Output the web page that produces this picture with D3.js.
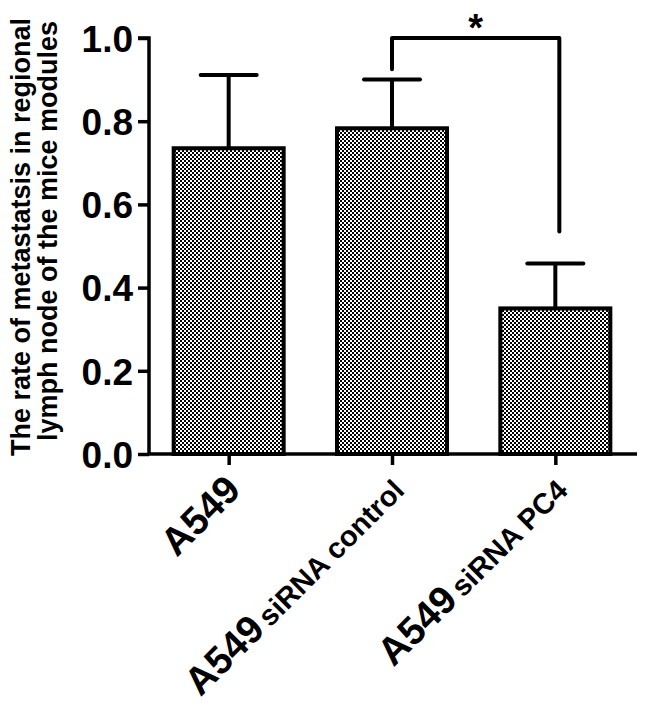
<!DOCTYPE html>
<html lang="en">
<head>
  <meta charset="UTF-8" />
  <script src="https://d3js.org/d3.v7.min.js"></script>
  <title>Metastasis rate</title>
  <style>
    body { margin: 0; background: #fff; }
    text { font-family: "Liberation Sans", Arial, sans-serif; font-weight: bold; fill: #000; }
  </style>
</head>
<body>
<script type="text/javascript">
// values
var groups = ["A549", "A549 siRNA control", "A549 siRNA PC4"];
var labelMain = ["A549", "A549", "A549"];
var labelSub = ["", "siRNA control", "siRNA PC4"];
var means = [0.735, 0.783, 0.35];
var errs = [0.176, 0.117, 0.108];
var yTicks = [0, 0.2, 0.4, 0.6, 0.8, 1.0];
// significance bracket: between group 2 and 3
var sig = {from: 1, to: 2, level: 1.0, leftEnd: 0.925, rightEnd: 0.535, mark: "*"};

var width = 650, height = 714;
var x0 = 147, x1 = 637, yTop = 38, yBase = 454;

var svg = d3.select("body").append("svg").attr("width", width).attr("height", height);

// checkerboard fill
var defs = svg.append("defs");
var pat = defs.append("pattern").attr("id", "checker")
  .attr("patternUnits", "userSpaceOnUse").attr("width", 4).attr("height", 4);
pat.append("rect").attr("width", 4).attr("height", 4).attr("fill", "#fff");
pat.append("rect").attr("width", 2).attr("height", 2).attr("fill", "#000");
pat.append("rect").attr("x", 2).attr("y", 2).attr("width", 2).attr("height", 2).attr("fill", "#000");

var x = d3.scalePoint().domain(groups).range([x0, x1]).padding(0.5);
var y = d3.scaleLinear().domain([0, 1]).range([yBase, yTop]);
var barW = 110;

// bars
svg.selectAll(".bar").data(groups).enter().append("rect")
  .attr("x", function(d){ return x(d) - barW/2; })
  .attr("y", function(d,i){ return y(means[i]); })
  .attr("width", barW)
  .attr("height", function(d,i){ return yBase - y(means[i]); })
  .attr("fill", "url(#checker)")
  .attr("stroke", "#000").attr("stroke-width", 4);

// error bars (upper only)
var eb = svg.selectAll(".err").data(groups).enter().append("g");
eb.append("line")
  .attr("x1", function(d){ return x(d); }).attr("x2", function(d){ return x(d); })
  .attr("y1", function(d,i){ return y(means[i]); })
  .attr("y2", function(d,i){ return y(means[i] + errs[i]); })
  .attr("stroke", "#000").attr("stroke-width", 4);
eb.append("line")
  .attr("x1", function(d){ return x(d) - 28; }).attr("x2", function(d){ return x(d) + 28; })
  .attr("y1", function(d,i){ return y(means[i] + errs[i]); })
  .attr("y2", function(d,i){ return y(means[i] + errs[i]); })
  .attr("stroke", "#000").attr("stroke-width", 4).attr("stroke-linecap", "round");

// axes
var yAxis = svg.append("g").attr("transform", "translate(" + 149 + ",0)")
  .call(d3.axisLeft(y).tickValues(yTicks).tickFormat(d3.format(".1f")).tickSize(11).tickPadding(5));
yAxis.select(".domain").attr("d", "M-11," + y(1) + "H0V" + yBase);
var xAxis = svg.append("g").attr("transform", "translate(0," + yBase + ")")
  .call(d3.axisBottom(x).tickSize(11).tickFormat(""));
xAxis.select(".domain").attr("d", "M149,0H" + x1);
svg.selectAll(".domain, .tick line").attr("stroke", "#000").attr("stroke-width", 3.5);
yAxis.selectAll(".tick text").attr("font-size", 37).attr("dy", "0.36em").style("font-family", "'Liberation Sans', Arial, sans-serif");

// x labels, rotated
var lab = svg.append("g").selectAll("text").data(groups).enter().append("text")
  .attr("text-anchor", "end")
  .attr("transform", function(d){ return "translate(" + (x(d) + 14) + "," + 492 + ") rotate(-45)"; });
lab.append("tspan").attr("font-size", 39).text(function(d,i){ return labelMain[i]; });
lab.append("tspan").attr("font-size", 29).attr("dx", 5).text(function(d,i){ return labelSub[i]; });

// y title
var title = svg.append("g").attr("transform", "rotate(-90)");
title.append("text").attr("x", -237).attr("y", 30).attr("text-anchor", "middle").attr("font-size", 27)
  .text("The rate of metastatsis in regional");
title.append("text").attr("x", -231).attr("y", 57).attr("text-anchor", "middle").attr("font-size", 27)
  .text("lymph node of the mice modules");

// significance bracket
var bx1 = x(groups[sig.from]), bx2 = x(groups[sig.to]) + 4;
svg.append("path")
  .attr("d", d3.line()([[bx1, y(sig.leftEnd)], [bx1, y(sig.level)], [bx2, y(sig.level)], [bx2, y(sig.rightEnd)]]))
  .attr("fill", "none").attr("stroke", "#000").attr("stroke-width", 4)
  .attr("stroke-linejoin", "round").attr("stroke-linecap", "round");
svg.append("text").attr("x", (bx1 + bx2) / 2).attr("y", 41).attr("text-anchor", "middle")
  .attr("font-size", 38).text(sig.mark);
</script>
</body>
</html>
